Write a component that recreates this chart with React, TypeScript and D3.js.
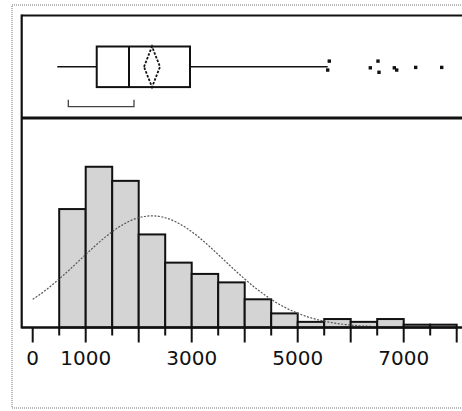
import React from "react";
import * as d3 from "d3";

// Histogram bins (lower edges) and counts
const binStarts = [500, 1000, 1500, 2000, 2500, 3000, 3500, 4000, 4500, 5000, 5500, 6000, 6500, 7000, 7500];
const binCounts = [42, 57, 52, 33, 23, 19, 16, 10, 5, 2, 3, 2, 3, 1, 1];
const binWidth = 500;

// Axis
const tickValues = d3.range(0, 8001, 500);
const tickLabels = [0, 1000, 3000, 5000, 7000];

// Box plot summary
const whiskerLow = 464;
const q1 = 1208;
const median = 1817;
const q3 = 2968;
const whiskerHigh = 5566;
const meanValue = 2251;
const meanCILow = 2100;
const meanCIHigh = 2402;
const shortestHalf = [672, 1911];
const outlierValues = [5566, 5596, 6370, 6515, 6534, 6823, 6868, 7226, 7717];
const outlierJitter = [0.16, -0.28, 0.05, -0.28, 0.27, 0.05, 0.16, 0.03, 0.03];

// Normal fit
const fitMean = 2250;
const fitSD = 1355;
const fitFrom = 0;
const fitTo = 6400;

export default function App() {
  const W = 462;
  const H = 411;
  const frameLeft = 21.7;
  const frameTop = 15.5;
  const divider = 118;
  const baseline = 327.5;

  const x = d3.scaleLinear().domain([0, 8000]).range([32.7, 456.7]);
  const y = d3.scaleLinear().domain([0, 74]).range([baseline, baseline - 74 * 2.82]);
  const boxMid = 66.8;
  const boxHalf = 20.3;
  const jy = d3.scaleLinear().domain([-1, 1]).range([boxMid - boxHalf, boxMid + boxHalf]);

  const N = d3.sum(binCounts);
  const peak = (N * binWidth) / (fitSD * Math.sqrt(2 * Math.PI));
  const curvePts = d3.range(fitFrom, fitTo + 1, 50).map((v) => [
    v,
    peak * Math.exp(-((v - fitMean) ** 2) / (2 * fitSD * fitSD)),
  ]);
  const line = d3
    .line<number[]>()
    .x((d) => x(d[0]))
    .y((d) => y(d[1]))
    .curve(d3.curveMonotoneX);

  const diamond = `M${x(meanCILow)},${boxMid} L${x(meanValue)},${boxMid - boxHalf} L${x(meanCIHigh)},${boxMid} L${x(meanValue)},${boxMid + boxHalf} Z`;

  const shY = 106.7;

  return (
    <svg
      width={W}
      height={H}
      style={{ position: "absolute", left: 0, top: 0, background: "#fff" }}
    >
      <rect x={0} y={0} width={W} height={H} fill="#fff" />
      {/* scanned outer border */}
      <rect
        x={12}
        y={5}
        width={W + 10}
        height={403}
        fill="none"
        stroke="#b8b8b8"
        strokeWidth={2}
        strokeDasharray="1 1"
      />

      {/* histogram bars */}
      {binStarts.map((b, i) => (
        <rect
          key={i}
          x={x(b)}
          y={y(binCounts[i])}
          width={x(b + binWidth) - x(b)}
          height={baseline - y(binCounts[i])}
          fill="#d4d4d4"
          stroke="#111"
          strokeWidth={2}
        />
      ))}

      {/* normal curve */}
      <path
        d={line(curvePts) || ""}
        fill="none"
        stroke="#555"
        strokeWidth={1.2}
        strokeDasharray="2 1.5"
      />

      {/* frame */}
      <line x1={frameLeft} y1={frameTop} x2={W} y2={frameTop} stroke="#111" strokeWidth={2.2} />
      <line x1={frameLeft} y1={frameTop - 1} x2={frameLeft} y2={baseline + 1} stroke="#111" strokeWidth={2.2} />
      <line x1={frameLeft} y1={divider} x2={W} y2={divider} stroke="#111" strokeWidth={2.8} />
      <line x1={frameLeft} y1={baseline} x2={W} y2={baseline} stroke="#111" strokeWidth={2.4} />

      {/* ticks */}
      {tickValues.map((t) => (
        <line
          key={t}
          x1={x(t)}
          x2={x(t)}
          y1={baseline}
          y2={t % 1000 === 0 ? 342.5 : 335.5}
          stroke="#111"
          strokeWidth={2}
        />
      ))}
      {tickLabels.map((t) => (
        <text
          key={t}
          x={x(t)}
          y={365}
          textAnchor="middle"
          fontFamily="DejaVu Sans"
          fontSize={20}
          fill="#111"
        >
          {t}
        </text>
      ))}

      {/* box plot */}
      <line x1={x(whiskerLow)} x2={x(q1)} y1={boxMid} y2={boxMid} stroke="#111" strokeWidth={1.6} />
      <line x1={x(q3)} x2={x(whiskerHigh)} y1={boxMid} y2={boxMid} stroke="#111" strokeWidth={1.6} />
      <rect
        x={x(q1)}
        y={boxMid - boxHalf}
        width={x(q3) - x(q1)}
        height={boxHalf * 2}
        fill="none"
        stroke="#111"
        strokeWidth={2}
      />
      <line x1={x(median)} x2={x(median)} y1={boxMid - boxHalf} y2={boxMid + boxHalf} stroke="#111" strokeWidth={2} />
      <path d={diamond} fill="none" stroke="#111" strokeWidth={1.8} strokeDasharray="2.5 1.5" />

      {outlierValues.map((v, i) => (
        <rect
          key={i}
          x={x(v) - 1.7}
          y={jy(outlierJitter[i]) - 1.7}
          width={3.4}
          height={3.4}
          fill="#111"
        />
      ))}

      {/* shortest half bracket */}
      <path
        d={`M${x(shortestHalf[0])},${shY - 7} L${x(shortestHalf[0])},${shY} L${x(shortestHalf[1])},${shY} L${x(shortestHalf[1])},${shY - 7}`}
        fill="none"
        stroke="#444"
        strokeWidth={1.3}
      />
    </svg>
  );
}
